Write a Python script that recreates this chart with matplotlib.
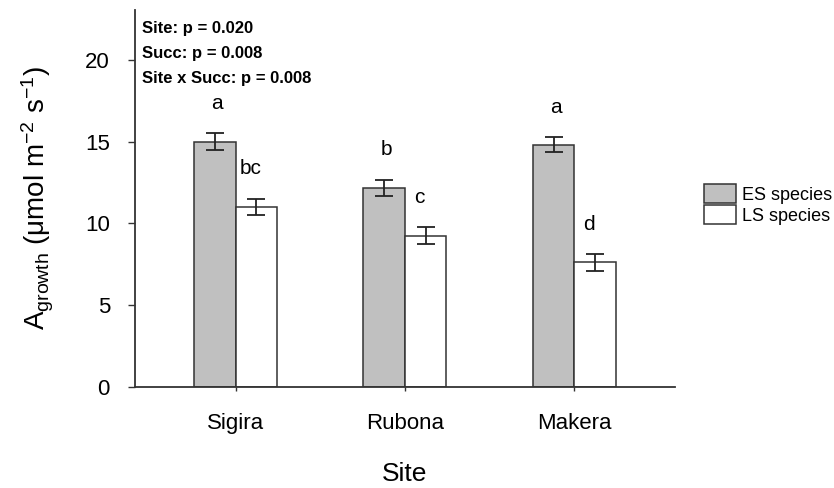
import numpy as np
import matplotlib
matplotlib.use("Agg")
import matplotlib.pyplot as plt
from matplotlib.patches import Patch

plt.rcParams['font.family'] = ['Liberation Sans', 'DejaVu Sans']
plt.rcParams['mathtext.fontset'] = 'custom'
plt.rcParams['mathtext.rm'] = 'Liberation Sans'
plt.rcParams['mathtext.it'] = 'Liberation Sans'

# Mean net assimilation per site and successional group, with standard errors
sites = ["Sigira", "Rubona", "Makera"]
es_mean = [15.0, 12.15, 14.8]
es_se = [0.5, 0.5, 0.45]
ls_mean = [11.0, 9.25, 7.6]
ls_se = [0.5, 0.5, 0.5]
es_letters = ["a", "b", "a"]
ls_letters = ["bc", "c", "d"]
stats_text = ["Site: p = 0.020", "Succ: p = 0.008", "Site x Succ: p = 0.008"]

fig = plt.figure(figsize=(8.34, 4.88), dpi=100)
ax = fig.add_axes([135 / 834, 1 - 386.7 / 488, 540 / 834, 376.7 / 488])

x = np.arange(len(sites))
w = 0.245
edge = "#333333"
err_kw = dict(ecolor="#222222", elinewidth=1.3, capsize=6.5, capthick=1.3)

ax.bar(x - w / 2, es_mean, w, yerr=es_se, color="#c0c0c0", edgecolor=edge,
       linewidth=1.1, error_kw=err_kw, label="ES species", zorder=2)
ax.bar(x + w / 2, ls_mean, w, yerr=ls_se, color="white", edgecolor=edge,
       linewidth=1.1, error_kw=err_kw, label="LS species", zorder=2)

# significance letters just above each error bar
for i in range(len(sites)):
    ax.text(x[i] - w / 2 + 0.012, es_mean[i] + es_se[i] + 1.5, es_letters[i],
            ha="center", va="baseline", fontsize=15)
    ax.text(x[i] + w / 2 - 0.035, ls_mean[i] + ls_se[i] + 1.5, ls_letters[i],
            ha="center", va="baseline", fontsize=15)

ax.set_xlim(-0.594, 2.595)
ax.set_ylim(0, 23.05)
ax.set_yticks([0, 5, 10, 15, 20])
ax.set_xticks(x)
ax.set_xticklabels(sites)

for s in ["top", "right"]:
    ax.spines[s].set_visible(False)
for s in ["left", "bottom"]:
    ax.spines[s].set_color("#333333")
    ax.spines[s].set_linewidth(1.3)

ax.tick_params(axis="y", direction="out", length=5, width=1, color="#333333",
               labelsize=16, pad=13)
ax.tick_params(axis="x", direction="out", length=3, width=1, color="#333333",
               labelsize=16, pad=16)

ax.set_xlabel("Site", fontsize=19, labelpad=20)
ax.set_ylabel(r"$\mathregular{A_{growth}\ (μmol\ m^{-2}\ s^{-1})}$", fontsize=20,
              labelpad=21)

for k, line in enumerate(stats_text):
    fig.text(142 / 834, 1 - (33.5 + 24.8 * k) / 488, line, ha="left", va="baseline",
             fontsize=12, fontweight="bold",
             family=["Liberation Sans Narrow", "Liberation Sans", "DejaVu Sans"])

handles = [Patch(facecolor="#c0c0c0", edgecolor=edge, linewidth=1.1, label="ES species"),
           Patch(facecolor="white", edgecolor=edge, linewidth=1.1, label="LS species")]
fig.legend(handles=handles, loc="center left", bbox_to_anchor=(704 / 834, 1 - 204.5 / 488),
           frameon=False, fontsize=13, handlelength=1.78, handleheight=1.22,
           handletextpad=0.35, labelspacing=0.1, borderpad=0, borderaxespad=0)

fig.savefig("out.png", dpi=100)
